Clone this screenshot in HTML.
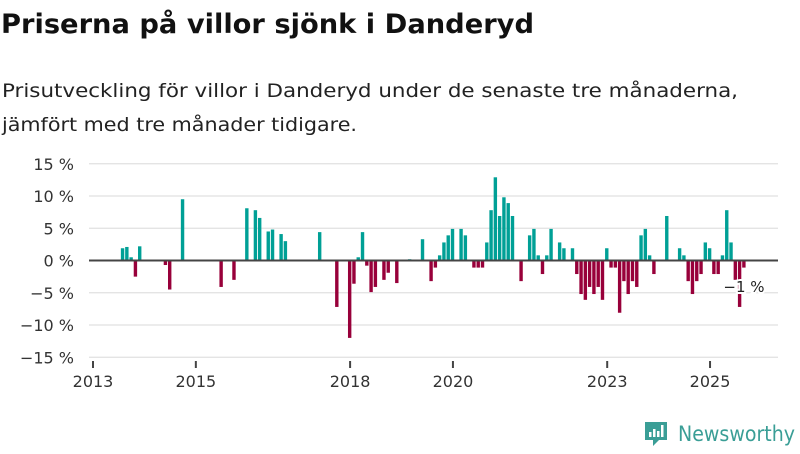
<!DOCTYPE html>
<html><head><meta charset="utf-8"><style>
html,body{margin:0;padding:0;background:#fff;}
body{width:800px;height:450px;overflow:hidden;font-family:"DejaVu Sans","Liberation Sans",sans-serif;}
svg text{font-family:"DejaVu Sans","Liberation Sans",sans-serif;}
</style></head><body>
<svg id="c" width="800" height="450" viewBox="0 0 800 450" xmlns="http://www.w3.org/2000/svg">
<text x="1" y="33" font-size="27" font-weight="bold" fill="#111" textLength="533" lengthAdjust="spacingAndGlyphs">Priserna på villor sjönk i Danderyd</text>
<text x="2" y="97" font-size="19" fill="#222" textLength="736" lengthAdjust="spacingAndGlyphs">Prisutveckling för villor i Danderyd under de senaste tre månaderna,</text>
<text x="2" y="131" font-size="19" fill="#222" textLength="355" lengthAdjust="spacingAndGlyphs">jämfört med tre månader tidigare.</text>
<g id="grid"></g><g id="bars"></g><g id="axes"></g>
<g>
<path d="M645 422 h22 v18 h-8 l-6 6 v-6 h-8 z" fill="#3a9e96"/>
<rect x="649" y="432" width="2.5" height="5" fill="#fff"/><rect x="653" y="429" width="2.5" height="8" fill="#fff"/><rect x="657" y="431" width="2.5" height="6" fill="#fff"/><rect x="661" y="425" width="2.5" height="12" fill="#fff"/>
<text x="678" y="441" font-size="21" fill="#3a9e96" textLength="117" lengthAdjust="spacingAndGlyphs">Newsworthy</text>
</g>
</svg>
<script>
const monthIdx=[6,7,8,9,10,16,17,20,29,32,35,37,38,40,41,43,44,52,56,59,60,61,62,63,64,65,67,68,70,73,76,78,79,80,81,82,83,85,86,88,89,90,91,92,93,94,95,96,97,99,101,102,103,104,105,106,108,109,111,112,113,114,115,116,117,118,119,120,121,122,123,124,125,126,127,128,129,130,133,136,137,138,139,140,141,142,143,144,145,146,147,148,149,150,151];
const values=[1.9,2.1,0.5,-2.5,2.2,-0.7,-4.5,9.5,-4.1,-3.0,8.1,7.8,6.6,4.5,4.8,4.1,3.0,4.4,-7.2,-12.0,-3.6,0.5,4.4,-0.8,-4.9,-4.1,-3.0,-1.9,-3.5,0.2,3.3,-3.2,-1.1,0.8,2.8,3.9,4.9,4.9,3.9,-1.1,-1.1,-1.1,2.8,7.8,12.9,6.9,9.8,8.9,6.9,-3.2,3.9,4.9,0.8,-2.1,0.8,4.9,2.8,1.9,1.9,-2.1,-5.2,-6.1,-4.1,-5.2,-4.1,-6.1,1.9,-1.1,-1.1,-8.1,-3.2,-5.2,-3.2,-4.1,3.9,4.9,0.8,-2.1,6.9,1.9,0.8,-3.2,-5.2,-3.2,-2.1,2.8,1.9,-2.1,-2.1,0.8,7.8,2.8,-3.0,-7.2,-1.1];
const yTicks=[15,10,5,0,-5,-10,-15];
const xTickYears=[2013,2015,2018,2020,2023,2025];
const NS='http://www.w3.org/2000/svg';
const x0=93,pxMonth=4.285,y0=260.5,pxPct=6.45;
const xM=i=>x0+(i+0.9)*pxMonth;
const xY=yr=>x0+(yr-2013)*12*pxMonth;
const yV=v=>y0-v*pxPct;
function mk(t,a,p){const e=document.createElementNS(NS,t);for(const k in a)e.setAttribute(k,a[k]);p.appendChild(e);return e;}
const grid=document.getElementById('grid'),bars=document.getElementById('bars'),axes=document.getElementById('axes');
yTicks.forEach(v=>{
 if(v!==0){const l=mk('line',{x1:89,x2:778,y1:yV(v),y2:yV(v),stroke:'#e0e0e0','stroke-width':1.2},grid);
 
 }
 const t=mk('text',{x:74,y:yV(v)+6,'text-anchor':'end','font-size':16,fill:'#333'},grid);
 t.textContent=(v<0?'\u2212'+(-v):v)+' %';
 
 
});
monthIdx.forEach((m,k)=>{
 const v=values[k];const cx=xM(m);
 const r=mk('rect',{x:cx-1.7,width:3.4,y:Math.min(yV(v),y0),height:Math.abs(yV(v)-y0),fill:v>=0?'#00a096':'#98003a'},bars);
 
 
});
const z=mk('line',{x1:89,x2:778,y1:y0,y2:y0,stroke:'#444','stroke-width':2},axes);


xTickYears.forEach(yr=>{
 const x=xY(yr);
 const tk=mk('line',{x1:x,x2:x,y1:361,y2:368,stroke:'#444','stroke-width':2},axes);
 
 
 const t=mk('text',{x:x,y:387,'text-anchor':'middle','font-size':16,fill:'#333'},axes);
 t.textContent=yr;
 
 
});
const lastV=values[values.length-1];
const lbl=mk('text',{x:744,y:292,'text-anchor':'middle','font-size':15,fill:'#222',stroke:'#fff','stroke-width':4,'paint-order':'stroke'},axes);
lbl.textContent='\u2212'+Math.abs(Math.round(lastV))+' %';


</script>
</body></html>
